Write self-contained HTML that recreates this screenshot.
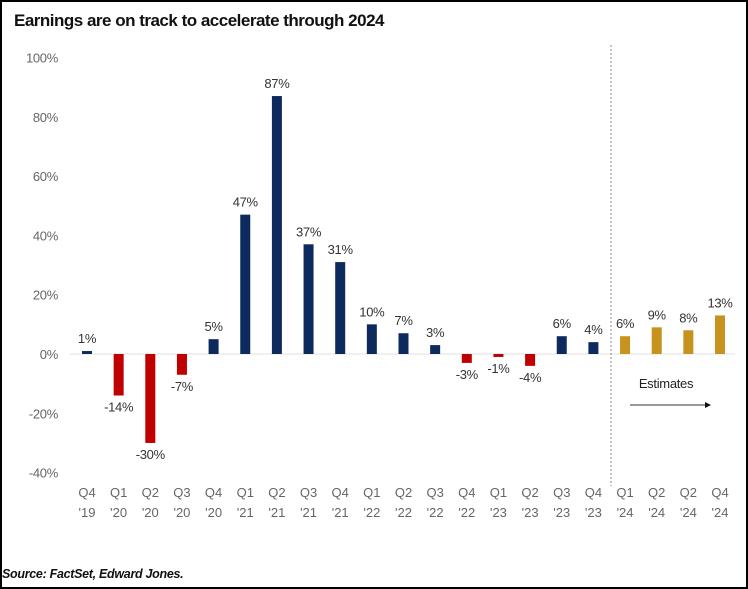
<!DOCTYPE html>
<html><head><meta charset="utf-8"><style>
html,body{margin:0;padding:0;background:#fff;}
#frame{position:relative;width:744px;height:585px;border:2px solid #000;overflow:hidden;font-family:"Liberation Sans",sans-serif;}
#title{position:absolute;left:12px;top:9px;font-size:17px;font-weight:bold;color:#111;letter-spacing:-0.5px;}
#source{position:absolute;left:0px;top:565px;font-size:12.5px;font-weight:bold;font-style:italic;color:#111;letter-spacing:-0.3px;}
svg{position:absolute;left:-2px;top:-2px;}
</style></head><body>
<div id="frame">
<div id="title">Earnings are on track to accelerate through 2024</div>
<div id="source">Source: FactSet, Edward Jones.</div>
<svg id="chart" width="748" height="589"></svg>
</div>
<script>
const categoriesQ = ["Q4","Q1","Q2","Q3","Q4","Q1","Q2","Q3","Q4","Q1","Q2","Q3","Q4","Q1","Q2","Q3","Q4","Q1","Q2","Q2","Q4"];
const categoriesY = ["'19","'20","'20","'20","'20","'21","'21","'21","'21","'22","'22","'22","'22","'23","'23","'23","'23","'24","'24","'24","'24"];
const values = [1,-14,-30,-7,5,47,87,37,31,10,7,3,-3,-1,-4,6,4,6,9,8,13];
const isEstimate = [0,0,0,0,0,0,0,0,0,0,0,0,0,0,0,0,0,1,1,1,1];
const yTicks = [100,80,60,40,20,0,-20,-40];

const NS="http://www.w3.org/2000/svg";
const svg=document.getElementById('chart');
const y=v=>354-v*2.965;
const x=i=>87+i*31.65;
function mk(t,a){const e=document.createElementNS(NS,t);for(const k in a)e.setAttribute(k,a[k]);svg.appendChild(e);return e;}
yTicks.forEach(t=>{
  const e=mk('text',{x:58,y:y(t)+5,'text-anchor':'end','font-size':13,fill:'#666','font-family':'Liberation Sans, sans-serif','letter-spacing':'-0.3'});
  e.textContent=t+'%';
  
  
});
const zl=mk('line',{x1:70,x2:735,y1:354,y2:354,stroke:'#e0e0e0','stroke-width':1});


values.forEach((v,i)=>{
  const col=isEstimate[i]?'#c8921f':(v<0?'#c00000':'#0d2a5e');
  const top=Math.min(y(v),y(0)),h=Math.abs(y(v)-y(0));
  const r=mk('rect',{x:x(i)-5,y:top,width:10,height:Math.max(h,1),fill:col});
  
  
  const ly=v>=0?y(v)-8:y(v)+16;
  const l=mk('text',{x:x(i),y:ly,'text-anchor':'middle','font-size':13,fill:'#333','font-family':'Liberation Sans, sans-serif','letter-spacing':'-0.3'});
  l.textContent=v+'%';
  
  
  const t1=mk('text',{x:x(i),y:497,'text-anchor':'middle','font-size':13,fill:'#666','font-family':'Liberation Sans, sans-serif'});
  t1.textContent=categoriesQ[i];
  
  
  const t2=mk('text',{x:x(i),y:517,'text-anchor':'middle','font-size':13,fill:'#666','font-family':'Liberation Sans, sans-serif'});
  t2.textContent=categoriesY[i];
  
  
});
const dl=mk('line',{x1:611,x2:611,y1:45,y2:486,stroke:'#888','stroke-width':1,'stroke-dasharray':'2,2'});


const et=mk('text',{x:666,y:388,'text-anchor':'middle','font-size':13,fill:'#222','font-family':'Liberation Sans, sans-serif','letter-spacing':'-0.3'});
et.textContent='Estimates';


const al=mk('line',{x1:630,x2:706,y1:405,y2:405,stroke:'#333','stroke-width':1});


const ah=mk('polygon',{points:'705,402 711,405 705,408',fill:'#111'});


</script>
</body></html>
